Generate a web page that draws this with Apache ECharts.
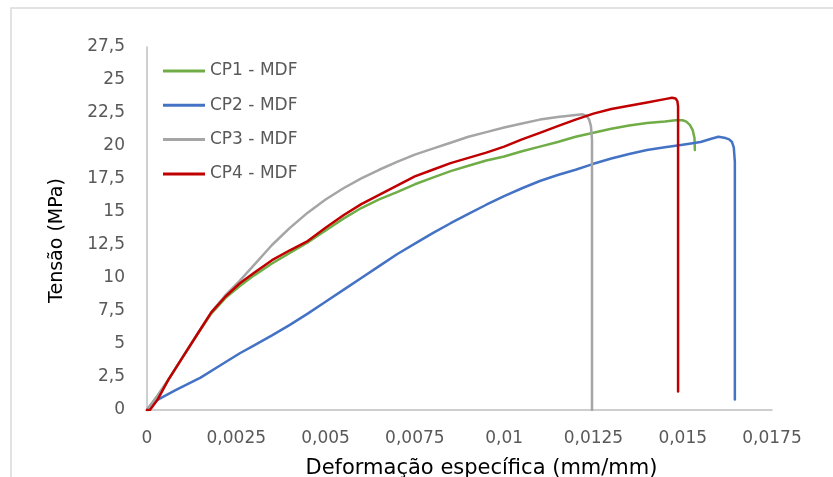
<!doctype html>
<html>
<head>
<meta charset="UTF-8">
<title>Tensão x Deformação - MDF</title>
<script src="https://cdn.jsdelivr.net/npm/echarts@6/dist/echarts.min.js"></script>
<style>
    html, body { margin: 0; padding: 0; background: #fff; }
    #main { width: 833px; height: 477px; }
</style>
</head>
<body>
<div id="main"></div>
<script>
    // tick labels (vírgula decimal, como no original)
    var xTickLabels = ['0', '0,0025', '0,005', '0,0075', '0,01', '0,0125', '0,015', '0,0175'];
    var yTickLabels = ['0', '2,5', '5', '7,5', '10', '12,5', '15', '17,5', '20', '22,5', '25', '27,5'];

    var seriesNames = ['CP1 - MDF', 'CP2 - MDF', 'CP3 - MDF', 'CP4 - MDF'];
    var seriesColors = ['#70ad47', '#4472c4', '#a5a5a5', '#c00000'];

    // CP1
    var cp1Strain = [0, 0.0003, 0.0006, 0.001, 0.0014, 0.0018, 0.0022, 0.0026, 0.003, 0.0035, 0.004, 0.0045, 0.005, 0.0055, 0.006, 0.0065, 0.007, 0.0075, 0.008, 0.0085, 0.009, 0.0095, 0.01, 0.0105, 0.011, 0.0115, 0.012, 0.0125, 0.013, 0.0135, 0.014, 0.0145, 0.0148, 0.015, 0.0151, 0.0152, 0.01528, 0.01533, 0.01534];
    var cp1Stress = [0, 1.1, 2.3, 4.0, 5.7, 7.3, 8.5, 9.4, 10.2, 11.1, 11.9, 12.7, 13.6, 14.5, 15.3, 15.95, 16.5, 17.1, 17.6, 18.1, 18.5, 18.9, 19.2, 19.6, 19.95, 20.3, 20.7, 21.0, 21.3, 21.55, 21.75, 21.85, 21.95, 21.95, 21.85, 21.6, 21.2, 20.6, 19.7];
    // CP2
    var cp2Strain = [0, 0.00015, 0.00028, 0.0008, 0.0015, 0.002, 0.0026, 0.003, 0.0035, 0.004, 0.0045, 0.005, 0.0055, 0.006, 0.0065, 0.007, 0.0075, 0.008, 0.0085, 0.009, 0.0095, 0.01, 0.0105, 0.011, 0.0115, 0.012, 0.0125, 0.013, 0.0135, 0.014, 0.0145, 0.015, 0.0155, 0.0158, 0.016, 0.0162, 0.0163, 0.01638, 0.01643, 0.01646, 0.01646];
    var cp2Stress = [0, 0.5, 0.75, 1.5, 2.45, 3.3, 4.3, 4.9, 5.65, 6.45, 7.3, 8.2, 9.1, 10.0, 10.9, 11.8, 12.6, 13.4, 14.15, 14.85, 15.55, 16.2, 16.8, 17.35, 17.8, 18.2, 18.65, 19.05, 19.4, 19.7, 19.9, 20.1, 20.3, 20.55, 20.7, 20.6, 20.5, 20.3, 19.9, 18.8, 0.8];
    // CP3
    var cp3Strain = [0, 0.0003, 0.0006, 0.001, 0.0014, 0.0018, 0.0022, 0.0026, 0.003, 0.0035, 0.004, 0.0045, 0.005, 0.0055, 0.006, 0.0065, 0.007, 0.0075, 0.008, 0.0085, 0.009, 0.0095, 0.01, 0.0105, 0.011, 0.0115, 0.012, 0.0122, 0.0123, 0.01238, 0.01243, 0.01246, 0.01246];
    var cp3Stress = [0, 1.1, 2.3, 4.0, 5.7, 7.4, 8.7, 9.8, 11.0, 12.5, 13.8, 14.95, 15.95, 16.8, 17.55, 18.2, 18.8, 19.35, 19.8, 20.25, 20.7, 21.05, 21.4, 21.7, 22.0, 22.2, 22.35, 22.4, 22.3, 22.0, 21.5, 20.5, 0];
    // CP4
    var cp4Strain = [0, 0.00008, 0.0003, 0.0006, 0.001, 0.0014, 0.0018, 0.0022, 0.0026, 0.003, 0.0035, 0.004, 0.0045, 0.005, 0.0055, 0.006, 0.0065, 0.007, 0.0075, 0.008, 0.0085, 0.009, 0.0095, 0.01, 0.0105, 0.011, 0.0115, 0.012, 0.0125, 0.013, 0.0135, 0.014, 0.0145, 0.0147, 0.0148, 0.01485, 0.01487, 0.01487];
    var cp4Stress = [0, 0, 0.8, 2.3, 4.0, 5.7, 7.4, 8.6, 9.6, 10.4, 11.35, 12.1, 12.8, 13.8, 14.75, 15.6, 16.3, 17.0, 17.7, 18.2, 18.7, 19.1, 19.5, 19.95, 20.5, 21.0, 21.5, 22.0, 22.45, 22.8, 23.05, 23.3, 23.55, 23.65, 23.6, 23.4, 23.0, 1.4];

    function pairs(xs, ys) {
        var out = [];
        for (var i = 0; i < xs.length; i++) out.push([xs[i], ys[i]]);
        return out;
    }
    var allData = [pairs(cp1Strain, cp1Stress), pairs(cp2Strain, cp2Stress), pairs(cp3Strain, cp3Stress), pairs(cp4Strain, cp4Stress)];

    var myChart = echarts.init(document.getElementById('main'));
    var labelFont = 'DejaVu Sans';

    var option = {
        animation: false,
        backgroundColor: '#fff',
        graphic: [{
            type: 'rect',
            shape: { x: 11, y: 8, width: 1000, height: 1000 },
            style: { fill: 'none', stroke: '#d9d9d9', lineWidth: 1.5 },
            silent: true
        }],
        grid: { left: 147, right: 61, top: 47, bottom: 67, outerBoundsMode: 'none' },
        legend: {
            orient: 'vertical',
            left: 163,
            top: 61,
            padding: 0,
            icon: 'rect',
            itemWidth: 42,
            itemHeight: 3,
            itemGap: 14.3,
            data: seriesNames,
            textStyle: { color: '#595959', fontSize: 17, fontFamily: labelFont, lineHeight: 20 }
        },
        xAxis: {
            type: 'value',
            min: 0,
            max: 0.0175,
            interval: 0.0025,
            name: 'Deformação específica (mm/mm)',
            nameLocation: 'middle',
            nameGap: 48,
            nameTextStyle: { color: '#000', fontSize: 21, fontFamily: labelFont, padding: [0, 0, 0, 44] },
            axisLine: { show: true, lineStyle: { color: '#bfbfbf', width: 1.5 } },
            axisTick: { show: false },
            splitLine: { show: false },
            axisLabel: {
                color: '#595959', fontSize: 17, fontFamily: labelFont, margin: 20,
                formatter: function (v) { return xTickLabels[Math.round(v / 0.0025)]; }
            }
        },
        yAxis: {
            type: 'value',
            min: 0,
            max: 27.5,
            interval: 2.5,
            name: 'Tensão (MPa)',
            nameLocation: 'middle',
            nameGap: 80,
            nameTextStyle: { color: '#000', fontSize: 19, fontFamily: labelFont, padding: [0, 24, 0, 0] },
            axisLine: { show: true, lineStyle: { color: '#bfbfbf', width: 1.5 } },
            axisTick: { show: false },
            splitLine: { show: false },
            axisLabel: {
                color: '#595959', fontSize: 17, fontFamily: labelFont, margin: 22,
                formatter: function (v) { return yTickLabels[Math.round(v / 2.5)]; }
            }
        },
        series: seriesNames.map(function (n, i) {
            return {
                name: n,
                type: 'line',
                symbol: 'none',
                smooth: false,
                color: seriesColors[i],
                lineStyle: { width: 2.5, color: seriesColors[i], cap: 'round', join: 'round' },
                data: allData[i]
            };
        })
    };
    myChart.setOption(option);
</script>
</body>
</html>
